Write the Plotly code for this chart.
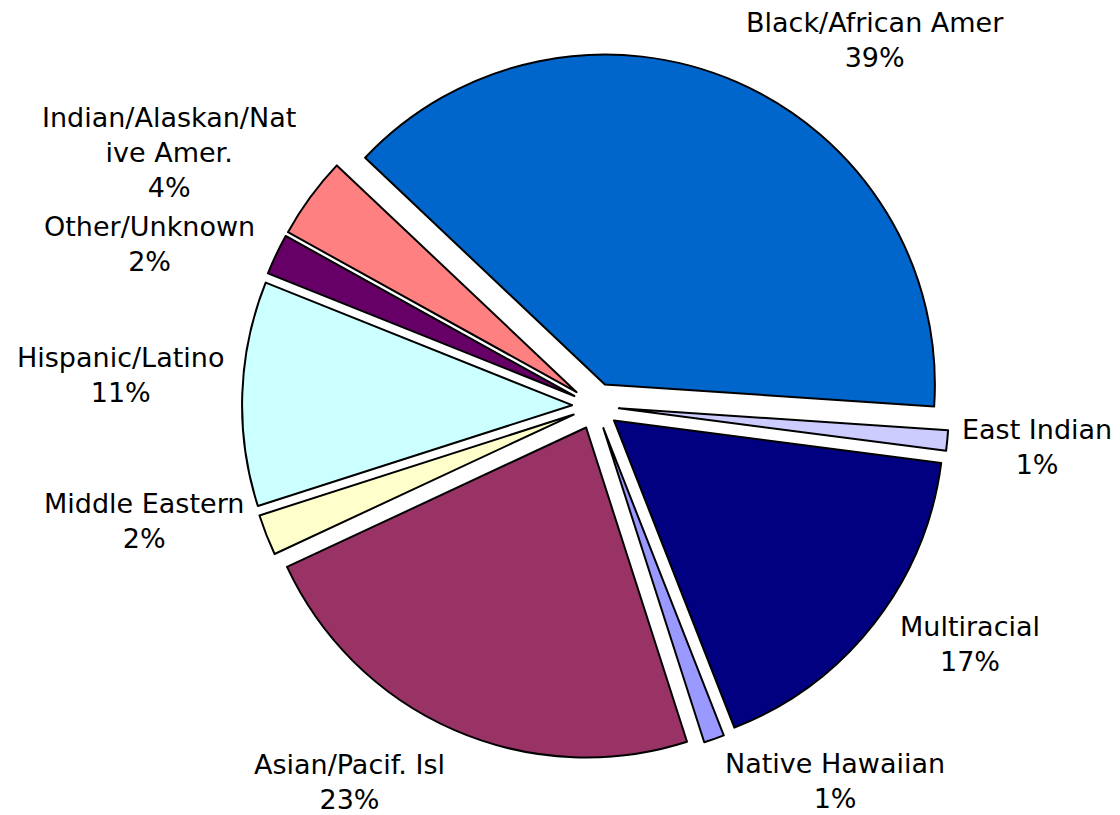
import math
import plotly.graph_objects as go

# Ethnic breakdown (percent of total)
categories = ["Black/African Amer", "East Indian", "Multiracial", "Native Hawaiian",
              "Asian/Pacif. Isl", "Middle Eastern", "Hispanic/Latino", "Other/Unknown",
              "Indian/Alaskan/Native Amer."]
display_names = ["Black/African Amer", "East Indian", "Multiracial", "Native Hawaiian",
                 "Asian/Pacif. Isl", "Middle Eastern", "Hispanic/Latino", "Other/Unknown",
                 "Indian/Alaskan/Nat<br>ive Amer."]
values = [39, 1, 17, 1, 23, 2, 11, 2, 4]
colors = ["#0066CC", "#CCCCFF", "#000080", "#9999FF", "#993366",
          "#FFFFCC", "#CCFFFF", "#660066", "#FF8080"]

W, H = 1120, 815
PULL = 0.071
ROTATION = -46.6
DOM_X = [0.21613, 0.84727]
DOM_Y = [0.06816, 0.93551]
FONT = dict(family="DejaVu Sans, Verdana, sans-serif", size=27, color="#000000")

fig = go.Figure(go.Pie(
    labels=categories,
    values=values,
    sort=False,
    direction="clockwise",
    rotation=ROTATION,
    pull=[PULL] * len(values),
    marker=dict(colors=colors, line=dict(color="#000000", width=2)),
    textinfo="none",
    hoverinfo="label+percent",
    showlegend=False,
    domain=dict(x=DOM_X, y=DOM_Y),
))

# Label placement: outside each slice along its mid-angle
cx = (DOM_X[0] + DOM_X[1]) / 2 * W
cy = (1 - (DOM_Y[0] + DOM_Y[1]) / 2) * H
outer = min((DOM_X[1] - DOM_X[0]) * W, (DOM_Y[1] - DOM_Y[0]) * H) / 2
label_r = outer + 14
# per-label shifts (pixels) to keep labels clear of each other
nudges = [(2, 5), (0, 5), (14, -22), (5, -5), (-2, 5),
          (-8, -19), (-3, -18), (-8, -4), (-2, 15)]

total = sum(values)
cum = 0
annotations = []
for name, v, (ndx, ndy) in zip(display_names, values, nudges):
    frac = (cum + v / 2) / total
    cum += v
    ang = math.radians(90 - (ROTATION + 360 * frac))
    c, s = math.cos(ang), math.sin(ang)
    px = cx + label_r * c + ndx
    py = cy - label_r * s + ndy
    xa = "left" if c > 0.3 else ("right" if c < -0.3 else "center")
    ya = "bottom" if s > 0.5 else ("top" if s < -0.5 else "middle")
    pct = round(100 * v / total)
    annotations.append(dict(
        x=px / W, y=1 - py / H, xref="paper", yref="paper",
        text=f"{name}<br>{pct}%", showarrow=False,
        xanchor=xa, yanchor=ya, align="center", font=FONT,
        borderpad=0,
    ))

fig.update_layout(
    width=W, height=H,
    margin=dict(l=0, r=0, t=0, b=0),
    paper_bgcolor="#FFFFFF",
    plot_bgcolor="#FFFFFF",
    annotations=annotations,
)

fig.write_html("out.html")
